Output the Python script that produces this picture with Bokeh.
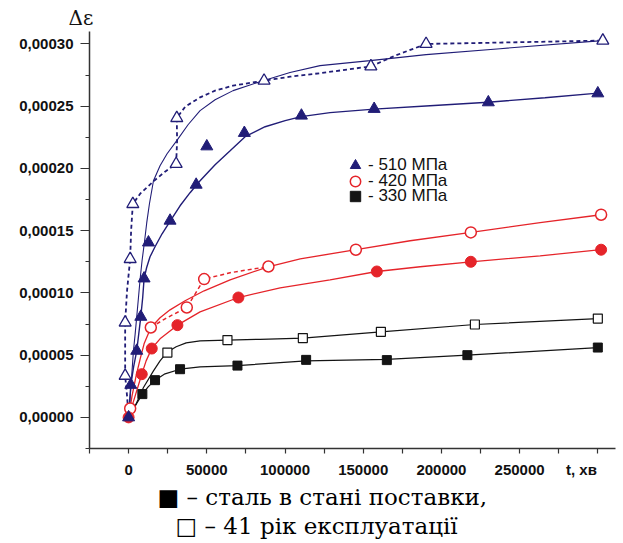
from bokeh.plotting import figure
from bokeh.models import Range1d, FixedTicker, Legend, LegendItem, Title
from bokeh.embed import file_html
from bokeh.resources import INLINE

# ---------------- data (t in minutes, strain increment) ----------------
# 510 MPa, as delivered (filled triangles)
t_510_d = [0, 1400, 5200, 7800, 9900, 12700, 26500, 43200, 50000, 74000, 110500, 157000, 230000, 300000]
e_510_d = [0, 0.0000261, 0.0000535, 0.0000808, 0.0001116, 0.0001405, 0.000158, 0.0001869, 0.0002177,
           0.0002285, 0.0002424, 0.0002478, 0.0002531, 0.0002603]
# 510 MPa, 41 years (open triangles)
t_510_o = [-2200, -2200, 1000, 2700, 30400, 30800, 86600, 154900, 190200, 303200]
e_510_o = [0.0000334, 0.0000762, 0.0001272, 0.0001714, 0.0002036, 0.0002405, 0.0002705, 0.000282, 0.0003, 0.0003027]
# 420 MPa, as delivered (filled circles)
t_420_d = [0, 8400, 14800, 31200, 70200, 158700, 218800, 302100]
e_420_d = [0, 0.0000347, 0.0000553, 0.0000741, 0.0000963, 0.0001172, 0.000125, 0.0001347]
# 420 MPa, 41 years (open circles)
t_420_o = [1000, 14200, 37200, 48300, 89400, 145300, 218800, 302100]
e_420_o = [0.0000071, 0.0000722, 0.0000883, 0.0001111, 0.0001212, 0.0001347, 0.0001486, 0.0001628]
# 330 MPa, as delivered (filled squares)
t_330_d = [8800, 16900, 32900, 69600, 113500, 165100, 216600, 300000]
e_330_d = [0.0000187, 0.0000299, 0.0000387, 0.0000416, 0.0000462, 0.000046, 0.00005, 0.0000561]
# 330 MPa, 41 years (open squares)
t_330_o = [24800, 63200, 111400, 161300, 221400, 300000]
e_330_o = [0.0000521, 0.0000621, 0.0000637, 0.0000687, 0.0000746, 0.0000794]

# fitted curves
fit_510_d_t = [0, 1400, 3200, 5200, 6500, 7800, 9000, 9900, 11500, 13700, 16900, 21400, 27200, 32900, 39300,
               45700, 55300, 64900, 74500, 87300, 100100, 110300, 128800, 156900, 192700, 229800, 266200, 300100]
fit_510_d_e = [0, 0.0000261, 0.0000406, 0.0000535, 0.0000672, 0.0000808, 0.0000961, 0.0001114, 0.0001202,
               0.0001290, 0.0001371, 0.0001475, 0.0001588, 0.00017, 0.0001805, 0.0001901, 0.000203, 0.0002142,
               0.0002255, 0.0002335, 0.0002384, 0.0002416, 0.0002448, 0.0002476, 0.0002504, 0.0002532,
               0.0002568, 0.0002605]
fit_510_o_t = [0, 1300, 2200, 3100, 4200, 5200, 6300, 7400, 8600, 10100, 11600, 13300, 15900, 20100, 24600,
               30800, 38000, 45700, 55300, 66800, 86000, 103200, 122400, 154400, 190200, 237500, 302700]
fit_510_o_e = [0, 0.0000213, 0.0000374, 0.0000535, 0.0000671, 0.0000808, 0.0000961, 0.0001116, 0.0001258,
               0.0001405, 0.0001564, 0.0001714, 0.0001901, 0.0002022, 0.0002118, 0.0002223, 0.0002351,
               0.0002464, 0.0002552, 0.0002625, 0.0002705, 0.000277, 0.0002826, 0.0002866, 0.0002914,
               0.0002962, 0.0003027]
dash_510_o_t = [0, -1000, -2200, -2200, -2200, -1000, 1000, 1600, 2700, 7400, 16300, 23300, 30400, 31000, 30800,
                36200, 45700, 55300, 66800, 86600, 103300, 122400, 154900, 170400, 190200, 237500, 303200]
dash_510_o_e = [0, 0.0000173, 0.0000334, 0.0000575, 0.0000762, 0.0001017, 0.0001272, 0.0001499, 0.0001714,
                0.0001797, 0.0001901, 0.0001974, 0.0002036, 0.0002223, 0.0002405, 0.0002496, 0.0002571,
                0.0002625, 0.0002665, 0.0002705, 0.0002737, 0.0002765, 0.000282, 0.0002906, 0.0003,
                0.0003011, 0.0003027]
fit_420_o_t = [0, 2200, 4800, 7400, 9900, 14200, 20100, 26500, 36100, 48300, 64900, 89200, 109700, 145500,
               180000, 219000, 263100, 302100]
fit_420_o_e = [0, 0.0000173, 0.0000334, 0.000047, 0.0000591, 0.000072, 0.00008, 0.0000864, 0.0000937,
               0.0001017, 0.0001105, 0.000121, 0.0001274, 0.0001347, 0.0001419, 0.0001486, 0.0001564, 0.0001628]
dash_420_o_t = [14200, 23300, 37200, 42600, 48300, 64900, 89400]
dash_420_o_e = [0.0000722, 0.0000792, 0.0000883, 0.0000993, 0.0001111, 0.0001162, 0.0001212]
fit_420_d_t = [0, 4200, 8400, 11200, 14800, 20100, 31200, 45700, 70200, 96900, 128800, 158700, 186400,
               218800, 263100, 302100]
fit_420_d_e = [0, 0.0000173, 0.0000347, 0.0000454, 0.0000553, 0.0000631, 0.0000741, 0.0000848, 0.0000963,
               0.0001041, 0.0001105, 0.0001172, 0.000121, 0.000125, 0.0001298, 0.0001347]
fit_330_o_t = [0, 4200, 9500, 15900, 20100, 24400, 30400, 36800, 45700, 63200, 84100, 111400, 161300, 221400, 300000]
fit_330_o_e = [0, 0.0000092, 0.000024, 0.0000374, 0.0000454, 0.0000521, 0.0000567, 0.0000599, 0.0000615,
               0.0000621, 0.0000627, 0.0000637, 0.0000687, 0.0000746, 0.0000794]
fit_330_d_t = [0, 4200, 8800, 12500, 16900, 23300, 32900, 45700, 69600, 113500, 165100, 216600, 300000]
fit_330_d_e = [0, 0.0000092, 0.0000187, 0.0000245, 0.0000299, 0.000035, 0.0000387, 0.0000406, 0.0000416,
               0.0000454, 0.0000466, 0.00005, 0.0000561]

# axes: labelled positions (the last one carries the axis name) and tick-mark positions
x_label_pos = [0, 50000, 100000, 150000, 200000, 250000, 289500]
x_tick_labels = ["0", "50000", "100000", "150000", "200000", "250000", "t, хв"]
x_tick_marks = [-25000, 0, 25000, 50000, 75000, 100000, 125000, 150000, 175000, 200000,
                225000, 250000, 275000, 300000]
y_ticks = [0.0, 0.00005, 0.0001, 0.00015, 0.0002, 0.00025, 0.0003]
y_tick_labels = ["0,00000", "0,00005", "0,00010", "0,00015", "0,00020", "0,00025", "0,00030"]
y_minor = [-0.000025, 0.000025, 0.000075, 0.000125, 0.000175, 0.000225, 0.000275]

y_title = "Δε"
legend_labels = ["- 510 МПа", "- 420 МПа", "- 330 МПа"]
caption_1 = "■ – сталь в стані поставки,"
caption_2 = "□ – 41 рік експлуатації"

NAVY = "#211d77"
RED = "#e5242a"
BLACK = "#141414"
SERIF = "DejaVu Serif"

p = figure(width=623, height=543, x_range=Range1d(-25000, 311300), y_range=Range1d(-0.000025, 0.00031),
           output_backend="svg", toolbar_location=None,
           min_border_left=89, min_border_right=8, min_border_top=31, min_border_bottom=95)
p.outline_line_color = None
p.grid.visible = False
p.background_fill_color = "white"
p.border_fill_color = "white"

for ax in (p.xaxis[0], p.yaxis[0]):
    ax.axis_line_color = "#333333"
    ax.axis_line_width = 1.5
    ax.major_tick_line_color = "#333333"
    ax.minor_tick_line_color = "#333333"
    ax.major_tick_line_width = 1.2
    ax.minor_tick_line_width = 1.2
    ax.major_tick_in = 0
    ax.minor_tick_in = 0
    ax.major_label_text_font = "Liberation Sans"
    ax.major_label_text_font_style = "bold"
    ax.major_label_text_font_size = "15px"
    ax.major_label_text_color = "#111111"

p.xaxis.ticker = FixedTicker(ticks=x_label_pos, minor_ticks=x_tick_marks)
p.xaxis.major_label_overrides = dict(zip(x_label_pos, x_tick_labels))
p.xaxis.major_tick_line_color = None
p.xaxis.major_tick_out = 5
p.xaxis.minor_tick_out = 5
p.xaxis.major_label_standoff = 7

p.yaxis.ticker = FixedTicker(ticks=y_ticks, minor_ticks=y_minor)
p.yaxis.major_label_overrides = dict(zip(y_ticks, y_tick_labels))
p.yaxis.major_tick_out = 9
p.yaxis.minor_tick_out = 4
p.yaxis.major_label_standoff = 7

# fitted curves
p.line(fit_330_d_t, fit_330_d_e, line_color=BLACK, line_width=1.2)
p.line(fit_330_o_t, fit_330_o_e, line_color=BLACK, line_width=1.2)
p.line(fit_420_d_t, fit_420_d_e, line_color=RED, line_width=1.3)
p.line(fit_420_o_t, fit_420_o_e, line_color=RED, line_width=1.3)
p.line(dash_420_o_t, dash_420_o_e, line_color=RED, line_width=1.5, line_dash="4 3")
p.line(fit_510_o_t, fit_510_o_e, line_color=NAVY, line_width=1.1)
p.line(dash_510_o_t, dash_510_o_e, line_color=NAVY, line_width=1.8, line_dash="4 3")
p.line(fit_510_d_t, fit_510_d_e, line_color=NAVY, line_width=1.4)

# markers
r_sq_o = p.scatter(t_330_o, e_330_o, marker="square", size=9, fill_color="white", line_color=BLACK, line_width=1.2)
r_sq_d = p.scatter(t_330_d, e_330_d, marker="square", size=9, fill_color=BLACK, line_color=BLACK)
r_ci_o = p.scatter(t_420_o, e_420_o, marker="circle", size=11, fill_color="white", line_color=RED, line_width=1.5)
r_ci_d = p.scatter(t_420_d, e_420_d, marker="circle", size=11, fill_color=RED, line_color=RED)
r_tr_o = p.scatter(t_510_o, e_510_o, marker="triangle", size=12, fill_color="white", line_color=NAVY, line_width=1.3)
r_tr_d = p.scatter(t_510_d, e_510_d, marker="triangle", size=12, fill_color=NAVY, line_color=NAVY)

# legend: one small legend per row so that rows sit close together
legend_rows = [(legend_labels[0], r_tr_d, 165.0), (legend_labels[1], r_ci_o, 180.7), (legend_labels[2], r_sq_d, 196.0)]
for lab, rend, cy in legend_rows:
    lg = Legend(items=[LegendItem(label=lab, renderers=[rend])],
                location=(253, 447.6 - (cy + 13)), orientation="vertical",
                border_line_color=None, background_fill_alpha=0,
                padding=0, margin=0, spacing=0,
                glyph_width=26, glyph_height=26, label_height=26, label_standoff=0,
                label_text_font="Liberation Sans", label_text_font_size="17px",
                label_text_color="#111111")
    p.add_layout(lg)

# y axis name above the axis
p.add_layout(Title(text=y_title, align="left", offset=-21, standoff=3,
                   text_font=SERIF, text_font_style="normal",
                   text_font_size="20px", text_color="#111111"), "above")

# caption below the chart
p.add_layout(Title(text=caption_1, align="left", offset=68, standoff=2,
                   text_font=SERIF, text_font_style="normal",
                   text_font_size="23px", text_color="black"), "below")
p.add_layout(Title(text=caption_2, align="left", offset=86, standoff=0,
                   text_font=SERIF, text_font_style="normal",
                   text_font_size="23px", text_color="black"), "below")

open("out.html", "w").write(file_html(p, INLINE))
